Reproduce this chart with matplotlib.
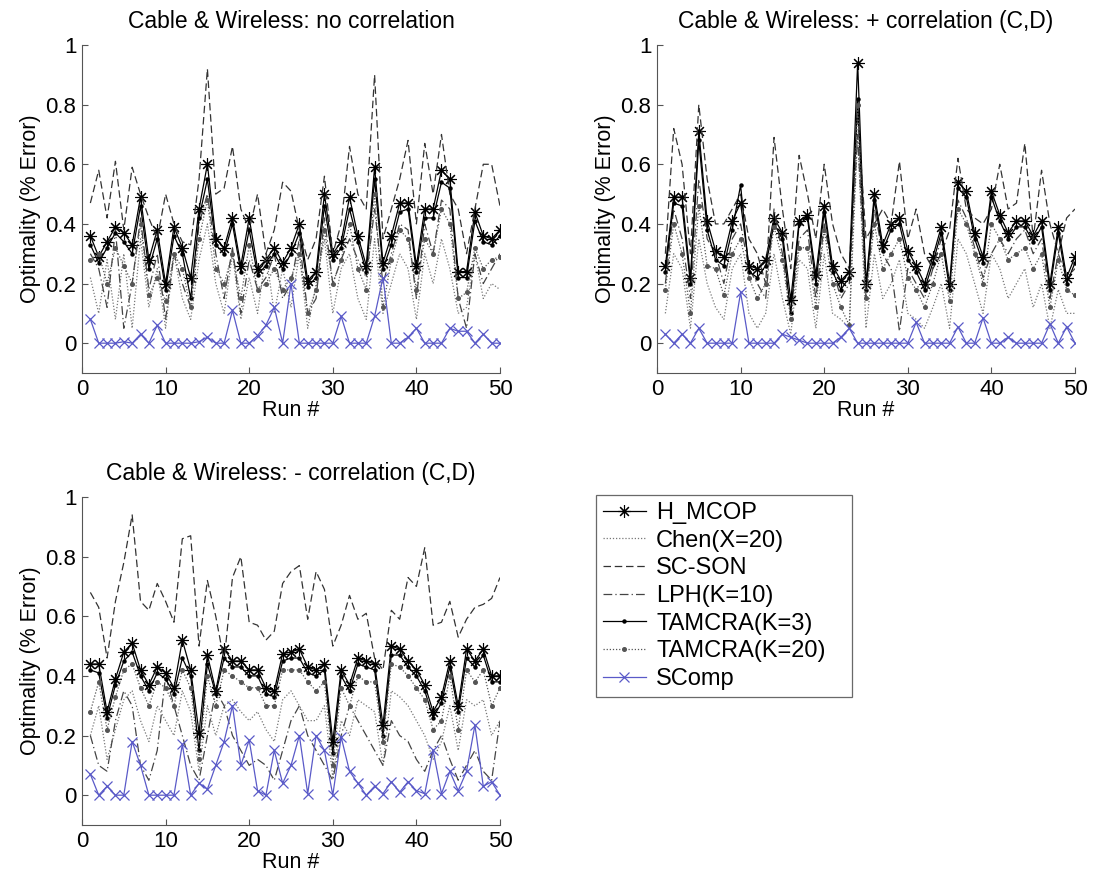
import numpy as np
import matplotlib
matplotlib.use('Agg')
import matplotlib.pyplot as plt

plt.rcParams['font.family'] = ['Liberation Sans', 'DejaVu Sans']

runs = list(range(1, 51))

titles = ['Cable & Wireless: no correlation',
          'Cable & Wireless: + correlation (C,D)',
          'Cable & Wireless: - correlation (C,D)']

# panel 1: no correlation
h_mcop_1 = [0.36, 0.29, 0.34, 0.39, 0.37, 0.33, 0.49, 0.28, 0.38, 0.20, 0.39, 0.32, 0.22, 0.45, 0.60, 0.35, 0.32, 0.42, 0.26, 0.42,
            0.25, 0.28, 0.32, 0.27, 0.32, 0.40, 0.21, 0.24, 0.50, 0.30, 0.34, 0.49, 0.36, 0.26, 0.59, 0.27, 0.36, 0.47, 0.47, 0.26,
            0.45, 0.45, 0.58, 0.55, 0.24, 0.24, 0.44, 0.36, 0.35, 0.38]
chen_1 = [0.22, 0.10, 0.28, 0.08, 0.30, 0.05, 0.35, 0.12, 0.25, 0.05, 0.30, 0.15, 0.08, 0.28, 0.40, 0.20, 0.10, 0.30, 0.08, 0.22,
          0.10, 0.30, 0.10, 0.25, 0.12, 0.30, 0.05, 0.20, 0.35, 0.10, 0.25, 0.30, 0.15, 0.08, 0.35, 0.10, 0.20, 0.30, 0.25, 0.08,
          0.30, 0.20, 0.35, 0.25, 0.10, 0.12, 0.30, 0.15, 0.20, 0.18]
scson_1 = [0.47, 0.58, 0.42, 0.61, 0.38, 0.59, 0.50, 0.42, 0.35, 0.50, 0.40, 0.34, 0.33, 0.55, 0.92, 0.50, 0.52, 0.66, 0.45, 0.38,
           0.50, 0.30, 0.38, 0.54, 0.51, 0.38, 0.28, 0.35, 0.56, 0.30, 0.40, 0.66, 0.50, 0.45, 0.90, 0.35, 0.45, 0.55, 0.68, 0.40,
           0.67, 0.50, 0.70, 0.50, 0.45, 0.30, 0.45, 0.60, 0.60, 0.46]
lph_1 = [0.30, 0.25, 0.12, 0.38, 0.05, 0.20, 0.42, 0.18, 0.30, 0.08, 0.30, 0.20, 0.12, 0.40, 0.50, 0.30, 0.15, 0.32, 0.10, 0.28,
         0.18, 0.22, 0.30, 0.15, 0.20, 0.35, 0.10, 0.15, 0.42, 0.20, 0.28, 0.35, 0.28, 0.22, 0.45, 0.20, 0.30, 0.40, 0.38, 0.15,
         0.40, 0.30, 0.48, 0.45, 0.15, 0.05, 0.30, 0.20, 0.25, 0.30]
tam3_1 = [0.33, 0.27, 0.32, 0.37, 0.34, 0.30, 0.46, 0.25, 0.35, 0.18, 0.36, 0.30, 0.15, 0.42, 0.55, 0.33, 0.30, 0.40, 0.24, 0.38,
          0.23, 0.26, 0.30, 0.25, 0.30, 0.37, 0.19, 0.22, 0.46, 0.28, 0.32, 0.45, 0.34, 0.24, 0.55, 0.25, 0.33, 0.44, 0.45, 0.24,
          0.42, 0.42, 0.54, 0.52, 0.22, 0.22, 0.41, 0.34, 0.33, 0.36]
tam20_1 = [0.28, 0.30, 0.20, 0.32, 0.26, 0.20, 0.40, 0.16, 0.22, 0.14, 0.30, 0.25, 0.12, 0.35, 0.48, 0.25, 0.20, 0.30, 0.15, 0.33,
           0.18, 0.20, 0.25, 0.18, 0.22, 0.30, 0.10, 0.18, 0.38, 0.20, 0.28, 0.40, 0.25, 0.18, 0.50, 0.12, 0.28, 0.38, 0.35, 0.18,
           0.35, 0.30, 0.45, 0.40, 0.15, 0.17, 0.32, 0.25, 0.28, 0.29]
scomp_1 = [0.08, 0.0, 0.0, 0.0, 0.005, 0.0, 0.03, 0.0, 0.06, 0.0, 0.0, 0.0, 0.0, 0.005, 0.02, 0.0, 0.0, 0.11, 0.0, 0.0,
           0.025, 0.06, 0.12, 0.0, 0.20, 0.0, 0.0, 0.0, 0.0, 0.0, 0.09, 0.0, 0.0, 0.0, 0.09, 0.22, 0.0, 0.0, 0.02, 0.05,
           0.0, 0.0, 0.0, 0.05, 0.04, 0.04, 0.0, 0.03, 0.0, 0.0]

# panel 2: + correlation
h_mcop_2 = [0.26, 0.49, 0.49, 0.22, 0.71, 0.41, 0.31, 0.29, 0.41, 0.47, 0.26, 0.25, 0.28, 0.42, 0.37, 0.145, 0.41, 0.43, 0.23, 0.46,
            0.26, 0.21, 0.24, 0.94, 0.20, 0.50, 0.33, 0.40, 0.42, 0.31, 0.26, 0.20, 0.29, 0.39, 0.20, 0.54, 0.51, 0.37, 0.29, 0.51,
            0.43, 0.37, 0.41, 0.41, 0.36, 0.41, 0.20, 0.39, 0.22, 0.29]
chen_2 = [0.10, 0.30, 0.25, 0.05, 0.35, 0.20, 0.12, 0.08, 0.25, 0.30, 0.10, 0.05, 0.10, 0.30, 0.15, 0.03, 0.28, 0.25, 0.05, 0.30,
          0.10, 0.08, 0.05, 0.70, 0.05, 0.30, 0.15, 0.20, 0.28, 0.10, 0.08, 0.05, 0.12, 0.20, 0.05, 0.35, 0.30, 0.20, 0.10, 0.30,
          0.25, 0.15, 0.20, 0.25, 0.12, 0.20, 0.05, 0.18, 0.10, 0.10]
scson_2 = [0.30, 0.72, 0.60, 0.30, 0.80, 0.55, 0.40, 0.40, 0.45, 0.50, 0.35, 0.30, 0.20, 0.69, 0.45, 0.25, 0.63, 0.50, 0.35, 0.60,
           0.40, 0.30, 0.25, 0.78, 0.35, 0.40, 0.45, 0.40, 0.61, 0.35, 0.45, 0.30, 0.25, 0.30, 0.38, 0.62, 0.45, 0.42, 0.40, 0.45,
           0.60, 0.45, 0.47, 0.67, 0.35, 0.58, 0.40, 0.30, 0.42, 0.45]
lph_2 = [0.20, 0.45, 0.35, 0.15, 0.55, 0.35, 0.30, 0.20, 0.35, 0.40, 0.25, 0.20, 0.15, 0.45, 0.30, 0.10, 0.35, 0.38, 0.15, 0.40,
         0.25, 0.15, 0.20, 0.70, 0.15, 0.45, 0.30, 0.25, 0.04, 0.25, 0.20, 0.15, 0.25, 0.35, 0.20, 0.48, 0.42, 0.32, 0.22, 0.30,
         0.35, 0.30, 0.35, 0.38, 0.30, 0.35, 0.15, 0.30, 0.22, 0.25]
tam3_2 = [0.24, 0.47, 0.46, 0.20, 0.68, 0.38, 0.28, 0.26, 0.38, 0.53, 0.24, 0.22, 0.26, 0.40, 0.35, 0.10, 0.40, 0.42, 0.20, 0.44,
          0.24, 0.18, 0.22, 0.82, 0.18, 0.48, 0.31, 0.38, 0.40, 0.28, 0.24, 0.18, 0.27, 0.37, 0.18, 0.52, 0.49, 0.35, 0.27, 0.49,
          0.41, 0.35, 0.39, 0.39, 0.34, 0.39, 0.18, 0.37, 0.20, 0.27]
tam20_2 = [0.18, 0.40, 0.30, 0.10, 0.46, 0.26, 0.25, 0.16, 0.30, 0.35, 0.22, 0.15, 0.20, 0.39, 0.28, 0.08, 0.32, 0.32, 0.12, 0.38,
           0.20, 0.12, 0.06, 0.80, 0.15, 0.40, 0.25, 0.30, 0.35, 0.22, 0.18, 0.12, 0.20, 0.30, 0.14, 0.45, 0.40, 0.30, 0.20, 0.40,
           0.35, 0.28, 0.30, 0.32, 0.25, 0.30, 0.12, 0.28, 0.18, 0.16]
scomp_2 = [0.03, 0.0, 0.03, 0.0, 0.05, 0.0, 0.0, 0.0, 0.0, 0.17, 0.0, 0.0, 0.0, 0.0, 0.03, 0.02, 0.01, 0.0, 0.0, 0.0,
           0.0, 0.02, 0.05, 0.0, 0.0, 0.0, 0.0, 0.0, 0.0, 0.0, 0.07, 0.0, 0.0, 0.0, 0.0, 0.055, 0.0, 0.0, 0.085, 0.0,
           0.0, 0.02, 0.0, 0.0, 0.0, 0.0, 0.065, 0.0, 0.055, 0.0]

# panel 3: - correlation
h_mcop_3 = [0.44, 0.44, 0.28, 0.39, 0.48, 0.51, 0.42, 0.37, 0.43, 0.41, 0.36, 0.52, 0.42, 0.21, 0.47, 0.35, 0.49, 0.45, 0.45, 0.42,
            0.42, 0.36, 0.35, 0.475, 0.48, 0.49, 0.43, 0.42, 0.44, 0.18, 0.42, 0.37, 0.46, 0.45, 0.44, 0.235, 0.50, 0.49, 0.45, 0.42,
            0.37, 0.28, 0.33, 0.45, 0.30, 0.49, 0.45, 0.49, 0.40, 0.40]
chen_3 = [0.20, 0.30, 0.12, 0.22, 0.32, 0.35, 0.25, 0.18, 0.30, 0.25, 0.20, 0.35, 0.28, 0.08, 0.30, 0.20, 0.30, 0.32, 0.28, 0.25,
          0.28, 0.22, 0.18, 0.32, 0.35, 0.30, 0.25, 0.25, 0.30, 0.06, 0.25, 0.20, 0.32, 0.30, 0.28, 0.10, 0.35, 0.33, 0.30, 0.25,
          0.20, 0.12, 0.18, 0.30, 0.15, 0.32, 0.30, 0.32, 0.20, 0.25]
scson_3 = [0.68, 0.63, 0.46, 0.65, 0.78, 0.94, 0.65, 0.62, 0.71, 0.65, 0.58, 0.86, 0.87, 0.50, 0.72, 0.60, 0.45, 0.73, 0.80, 0.58,
           0.57, 0.52, 0.55, 0.71, 0.75, 0.77, 0.59, 0.75, 0.69, 0.50, 0.57, 0.67, 0.59, 0.61, 0.46, 0.42, 0.62, 0.59, 0.73, 0.70,
           0.83, 0.57, 0.58, 0.65, 0.53, 0.59, 0.63, 0.64, 0.66, 0.73]
lph_3 = [0.20, 0.10, 0.08, 0.25, 0.35, 0.30, 0.10, 0.05, 0.15, 0.40, 0.30, 0.20, 0.10, 0.05, 0.20, 0.35, 0.30, 0.20, 0.15, 0.10,
         0.12, 0.10, 0.05, 0.15, 0.25, 0.30, 0.20, 0.15, 0.10, 0.05, 0.20, 0.30, 0.25, 0.20, 0.15, 0.10, 0.25, 0.20, 0.18, 0.12,
         0.08, 0.15, 0.20, 0.12, 0.05, 0.10, 0.15, 0.08, 0.05, 0.25]
tam3_3 = [0.42, 0.41, 0.26, 0.37, 0.45, 0.48, 0.40, 0.35, 0.41, 0.39, 0.34, 0.46, 0.40, 0.15, 0.44, 0.34, 0.46, 0.43, 0.43, 0.40,
          0.40, 0.34, 0.33, 0.45, 0.46, 0.46, 0.41, 0.40, 0.42, 0.14, 0.40, 0.35, 0.44, 0.43, 0.42, 0.20, 0.47, 0.47, 0.43, 0.40,
          0.35, 0.26, 0.31, 0.43, 0.28, 0.46, 0.43, 0.47, 0.38, 0.38]
tam20_3 = [0.28, 0.38, 0.22, 0.33, 0.42, 0.44, 0.36, 0.30, 0.38, 0.36, 0.30, 0.42, 0.36, 0.12, 0.40, 0.30, 0.42, 0.40, 0.38, 0.36,
           0.36, 0.30, 0.30, 0.42, 0.42, 0.42, 0.38, 0.35, 0.38, 0.10, 0.36, 0.30, 0.40, 0.38, 0.38, 0.18, 0.44, 0.43, 0.40, 0.36,
           0.32, 0.22, 0.25, 0.40, 0.22, 0.42, 0.38, 0.42, 0.30, 0.36]
scomp_3 = [0.07, 0.0, 0.03, 0.0, 0.0, 0.18, 0.10, 0.0, 0.0, 0.0, 0.0, 0.17, 0.0, 0.04, 0.02, 0.10, 0.18, 0.30, 0.10, 0.185,
           0.015, 0.0, 0.15, 0.04, 0.10, 0.20, 0.005, 0.20, 0.15, 0.0, 0.195, 0.08, 0.04, 0.0, 0.03, 0.005, 0.045, 0.01, 0.045, 0.015,
           0.005, 0.15, 0.005, 0.08, 0.015, 0.08, 0.235, 0.03, 0.045, 0.0]

panels = [
    [h_mcop_1, chen_1, scson_1, lph_1, tam3_1, tam20_1, scomp_1],
    [h_mcop_2, chen_2, scson_2, lph_2, tam3_2, tam20_2, scomp_2],
    [h_mcop_3, chen_3, scson_3, lph_3, tam3_3, tam20_3, scomp_3],
]

names = ['H_MCOP', 'Chen(X=20)', 'SC-SON', 'LPH(K=10)', 'TAMCRA(K=3)', 'TAMCRA(K=20)', 'SComp']

asterisk = (8, 2, 0)
styles = [
    dict(color='black', ls='-', lw=0.9, marker=asterisk, ms=9, mew=0.8),
    dict(color='#777777', ls=(0, (1, 1.5)), lw=0.9),
    dict(color='#333333', ls=(0, (6, 3)), lw=0.9),
    dict(color='#444444', ls=(0, (7, 2.5, 1, 2.5)), lw=0.9),
    dict(color='black', ls='-', lw=0.9, marker='o', ms=2.2),
    dict(color='#555555', ls=(0, (1, 1.5)), lw=0.9, marker='o', ms=2.6),
    dict(color='#5a5ac8', ls='-', lw=0.9, marker='x', ms=7, mew=0.9),
]

fig = plt.figure(figsize=(10.93, 8.88), dpi=100)
positions = [
    [82 / 1093, 1 - 373 / 888, 418 / 1093, 328 / 888],
    [657 / 1093, 1 - 373 / 888, 418 / 1093, 328 / 888],
    [82 / 1093, 1 - 825 / 888, 418 / 1093, 328 / 888],
]

lines = []
for k in range(3):
    ax = fig.add_axes(positions[k])
    lines = []
    for series, st, nm in zip(panels[k], styles, names):
        ln, = ax.plot(runs, series, label=nm, **st)
        lines.append(ln)
    ax.set_xlim(0, 50)
    ax.set_ylim(-0.1, 1)
    ax.set_xticks([0, 10, 20, 30, 40, 50])
    ax.set_yticks([0, 0.2, 0.4, 0.6, 0.8, 1])
    ax.set_yticklabels(['0', '0.2', '0.4', '0.6', '0.8', '1'])
    ax.spines['top'].set_visible(False)
    ax.spines['right'].set_visible(False)
    ax.spines['left'].set_color('#555555')
    ax.spines['bottom'].set_color('#555555')
    ax.tick_params(direction='in', labelsize=16, length=4, color='#555555', pad=4)
    ax.set_title(titles[k], fontsize=16.5, pad=12)
    ax.set_xlabel('Run #', fontsize=15.5, labelpad=0)
    ax.set_ylabel('Optimality (% Error)', fontsize=15.5, labelpad=3)

leg = fig.legend(lines, names, loc='upper left',
                 bbox_to_anchor=(596 / 1093, 1 - 690 / 888, 256 / 1093, 195 / 888), mode='expand',
                 borderaxespad=0, numpoints=1,
                 fontsize=17, frameon=True, fancybox=False, edgecolor='#444444',
                 borderpad=0.3, labelspacing=0.24, handlelength=1.8, handletextpad=0.45)
leg.get_frame().set_linewidth(0.9)

fig.savefig('out.png', dpi=100)
